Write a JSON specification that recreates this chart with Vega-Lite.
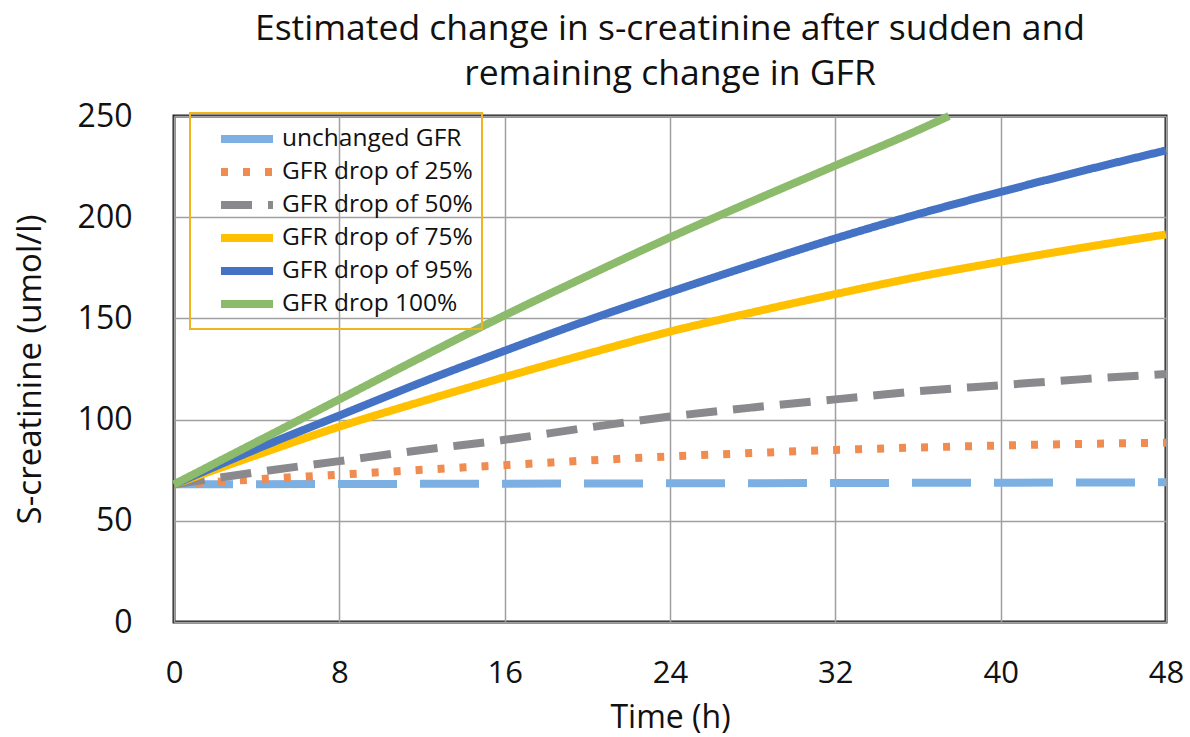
{
  "$schema": "https://vega.github.io/schema/vega-lite/v6.json",
  "autosize": {"type": "none"},
  "padding": {"left": 174, "top": 116, "right": 24, "bottom": 115},
  "width": 992,
  "height": 506,
  "background": "white",
  "config": {
    "font": "Open Sans",
    "view": {"stroke": "#222222", "strokeWidth": 3},
    "axis": {"gridColor": "#a0a0a0", "gridWidth": 1.5, "domain": false, "ticks": false, "labelColor": "#111", "titleColor": "#111", "labelFontWeight": "normal", "titleFontWeight": "normal"}
  },
  "title": {
    "text": ["Estimated change in s-creatinine after sudden and", "remaining change in GFR"],
    "fontSize": 35.5,
    "fontWeight": "normal",
    "color": "#111",
    "lineHeight": 45,
    "anchor": "middle",
    "offset": 8
  },
  "data": {
    "values": [
      {"t": 0, "c": 68, "s": "unchanged GFR"},
      {"t": 48, "c": 69, "s": "unchanged GFR"},

      {"t": 0, "c": 68, "s": "GFR drop of 25%"},
      {"t": 4, "c": 70.5, "s": "GFR drop of 25%"},
      {"t": 8, "c": 72.8, "s": "GFR drop of 25%"},
      {"t": 12, "c": 75.2, "s": "GFR drop of 25%"},
      {"t": 16, "c": 77.5, "s": "GFR drop of 25%"},
      {"t": 20, "c": 79.8, "s": "GFR drop of 25%"},
      {"t": 24, "c": 81.8, "s": "GFR drop of 25%"},
      {"t": 28, "c": 83.5, "s": "GFR drop of 25%"},
      {"t": 32, "c": 85, "s": "GFR drop of 25%"},
      {"t": 36, "c": 86.2, "s": "GFR drop of 25%"},
      {"t": 40, "c": 87.2, "s": "GFR drop of 25%"},
      {"t": 44, "c": 88, "s": "GFR drop of 25%"},
      {"t": 48, "c": 88.6, "s": "GFR drop of 25%"},

      {"t": 0, "c": 68, "s": "GFR drop of 50%"},
      {"t": 4, "c": 74, "s": "GFR drop of 50%"},
      {"t": 8, "c": 79.5, "s": "GFR drop of 50%"},
      {"t": 12, "c": 85, "s": "GFR drop of 50%"},
      {"t": 16, "c": 90, "s": "GFR drop of 50%"},
      {"t": 20, "c": 96, "s": "GFR drop of 50%"},
      {"t": 24, "c": 101.5, "s": "GFR drop of 50%"},
      {"t": 28, "c": 106, "s": "GFR drop of 50%"},
      {"t": 32, "c": 110, "s": "GFR drop of 50%"},
      {"t": 36, "c": 114, "s": "GFR drop of 50%"},
      {"t": 40, "c": 117, "s": "GFR drop of 50%"},
      {"t": 44, "c": 120, "s": "GFR drop of 50%"},
      {"t": 48, "c": 122.5, "s": "GFR drop of 50%"},

      {"t": 0, "c": 68, "s": "GFR drop of 75%"},
      {"t": 4, "c": 82.5, "s": "GFR drop of 75%"},
      {"t": 8, "c": 96.5, "s": "GFR drop of 75%"},
      {"t": 12, "c": 109, "s": "GFR drop of 75%"},
      {"t": 16, "c": 121, "s": "GFR drop of 75%"},
      {"t": 20, "c": 132.5, "s": "GFR drop of 75%"},
      {"t": 24, "c": 143.5, "s": "GFR drop of 75%"},
      {"t": 28, "c": 153, "s": "GFR drop of 75%"},
      {"t": 32, "c": 162, "s": "GFR drop of 75%"},
      {"t": 36, "c": 170.5, "s": "GFR drop of 75%"},
      {"t": 40, "c": 178, "s": "GFR drop of 75%"},
      {"t": 44, "c": 185, "s": "GFR drop of 75%"},
      {"t": 48, "c": 191.5, "s": "GFR drop of 75%"},

      {"t": 0, "c": 68, "s": "GFR drop of 95%"},
      {"t": 4, "c": 85.5, "s": "GFR drop of 95%"},
      {"t": 8, "c": 102, "s": "GFR drop of 95%"},
      {"t": 12, "c": 118.5, "s": "GFR drop of 95%"},
      {"t": 16, "c": 134, "s": "GFR drop of 95%"},
      {"t": 20, "c": 149, "s": "GFR drop of 95%"},
      {"t": 24, "c": 163, "s": "GFR drop of 95%"},
      {"t": 28, "c": 176.5, "s": "GFR drop of 95%"},
      {"t": 32, "c": 189.5, "s": "GFR drop of 95%"},
      {"t": 36, "c": 201.5, "s": "GFR drop of 95%"},
      {"t": 40, "c": 212.5, "s": "GFR drop of 95%"},
      {"t": 44, "c": 223, "s": "GFR drop of 95%"},
      {"t": 48, "c": 233, "s": "GFR drop of 95%"},

      {"t": 0, "c": 68, "s": "GFR drop 100%"},
      {"t": 4, "c": 89, "s": "GFR drop 100%"},
      {"t": 8, "c": 110, "s": "GFR drop 100%"},
      {"t": 12, "c": 131, "s": "GFR drop 100%"},
      {"t": 16, "c": 151.5, "s": "GFR drop 100%"},
      {"t": 20, "c": 171, "s": "GFR drop 100%"},
      {"t": 24, "c": 190, "s": "GFR drop 100%"},
      {"t": 28, "c": 208, "s": "GFR drop 100%"},
      {"t": 32, "c": 225.5, "s": "GFR drop 100%"},
      {"t": 36, "c": 243, "s": "GFR drop 100%"},
      {"t": 37.5, "c": 250, "s": "GFR drop 100%"}
    ]
  },
  "mark": {"type": "line", "strokeWidth": 8, "strokeCap": "butt", "interpolate": "monotone"},
  "encoding": {
    "x": {
      "field": "t", "type": "quantitative",
      "scale": {"domain": [0, 48], "nice": false},
      "axis": {"values": [0, 8, 16, 24, 32, 40, 48], "title": "Time (h)", "labelFontSize": 31, "titleFontSize": 32, "labelPadding": 36, "titlePadding": 14, "labelFlush": false}
    },
    "y": {
      "field": "c", "type": "quantitative",
      "scale": {"domain": [0, 250], "nice": false},
      "axis": {"values": [0, 50, 100, 150, 200, 250], "title": "S-creatinine (umol/l)", "labelFontSize": 32, "titleFontSize": 33, "labelPadding": 42, "titlePadding": 30}
    },
    "color": {
      "field": "s", "type": "nominal",
      "sort": ["unchanged GFR", "GFR drop of 25%", "GFR drop of 50%", "GFR drop of 75%", "GFR drop of 95%", "GFR drop 100%"],
      "scale": {
        "domain": ["unchanged GFR", "GFR drop of 25%", "GFR drop of 50%", "GFR drop of 75%", "GFR drop of 95%", "GFR drop 100%"],
        "range": ["#7cb0e2", "#f08c50", "#8a8a8e", "#ffc000", "#4472c4", "#8cbb6c"]
      },
      "legend": {
        "title": null,
        "orient": "none",
        "legendX": 16,
        "legendY": -3,
        "symbolType": "M-2,0H2",
        "symbolSize": 676,
        "symbolStrokeWidth": 8,
        "labelFontSize": 24.5,
        "labelLimit": 400,
        "labelColor": "#111",
        "labelOffset": 18,
        "rowPadding": -2,
        "padding": 9,
        "symbolOffset": 31,
        "strokeColor": "#f2b41c",
        "fillColor": null,
        "encode": {"legend": {"update": {"strokeWidth": {"value": 2}}}}
      }
    },
    "strokeDash": {
      "field": "s", "type": "nominal",
      "sort": ["unchanged GFR", "GFR drop of 25%", "GFR drop of 50%", "GFR drop of 75%", "GFR drop of 95%", "GFR drop 100%"],
      "scale": {
        "domain": ["unchanged GFR", "GFR drop of 25%", "GFR drop of 50%", "GFR drop of 75%", "GFR drop of 95%", "GFR drop 100%"],
        "range": [[59, 23], [7, 15], [31, 16], [1, 0], [1, 0], [1, 0]]
      },
      "legend": null
    }
  }
}
